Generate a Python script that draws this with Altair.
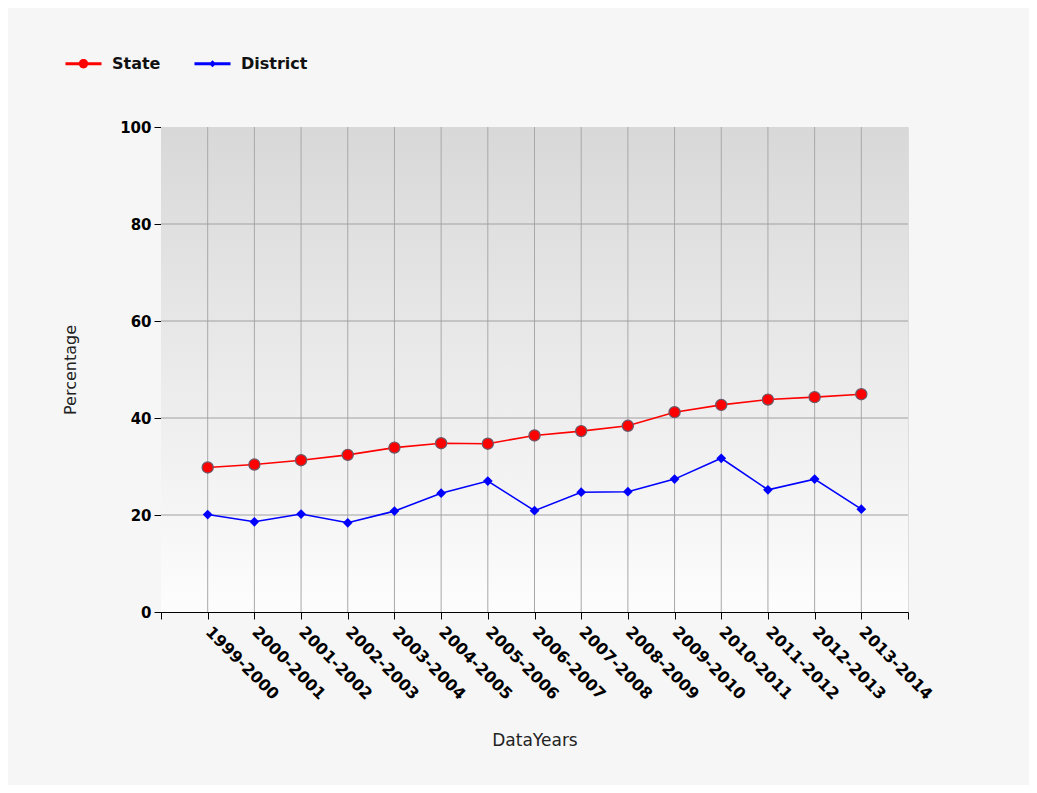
import altair as alt
import pandas as pd

years = ["1999-2000", "2000-2001", "2001-2002", "2002-2003", "2003-2004",
         "2004-2005", "2005-2006", "2006-2007", "2007-2008", "2008-2009",
         "2009-2010", "2010-2011", "2011-2012", "2012-2013", "2013-2014"]
state = [29.8, 30.4, 31.3, 32.4, 33.9, 34.8, 34.7, 36.4, 37.3, 38.4,
         41.2, 42.7, 43.8, 44.3, 44.9]
district = [20.1, 18.6, 20.2, 18.4, 20.8, 24.5, 27.0, 20.9, 24.7, 24.8,
            27.4, 31.7, 25.2, 27.4, 21.2]
series_names = ["State", "District"]
series_colors = ["#ff0000", "#0000ff"]
y_ticks = [0, 20, 40, 60, 80, 100]
y_grid = [20, 40, 60, 80]

rows = []
for i, yr in enumerate(years):
    rows.append({"pos": i + 1, "year": yr, "series": "State", "value": state[i]})
    rows.append({"pos": i + 1, "year": yr, "series": "District", "value": district[i]})
df = pd.DataFrame(rows)

n = len(years)
x_domain = [0, n + 1]
label_arr = "[''," + ",".join("'" + y + "'" for y in years) + ",'']"

x_scale = alt.Scale(domain=x_domain, nice=False, zero=False)
y_scale = alt.Scale(domain=[0, 100], nice=False)

x_axis = alt.Axis(values=list(range(0, n + 2)), labelExpr=label_arr + "[datum.value]",
                  labelAngle=45, labelAlign="left", labelBaseline="middle",
                  labelFontSize=16, labelFontWeight="bold", labelColor="#000",
                  labelPadding=10, tickSize=7, tickColor="#000", domainColor="#000",
                  grid=False, title="DataYears", titleFontSize=17,
                  titleFontWeight="normal", titleColor="#222", titlePadding=30,
                  labelFlush=False, labelOverlap=False)
y_axis = alt.Axis(values=y_ticks, labelFontSize=15, labelFontWeight="bold",
                  labelColor="#000", labelPadding=3, tickSize=7, tickColor="#000",
                  domainColor="#000", grid=False, title="Percentage",
                  titleFontSize=16, titleFontWeight="normal", titleColor="#222",
                  titlePadding=41)

base = alt.Chart(df)

bg = alt.Chart(pd.DataFrame({"a": [0]})).mark_rect(
    color=alt.Gradient(gradient="linear", x1=0, x2=0, y1=0, y2=1,
                       stops=[alt.GradientStop(color="#d8d8d8", offset=0),
                              alt.GradientStop(color="#fdfdfd", offset=1)])
).encode(
    x=alt.datum(0, scale=x_scale, axis=x_axis, type="quantitative"),
    x2=alt.datum(n + 1),
    y=alt.datum(0, scale=y_scale, axis=y_axis, type="quantitative"),
    y2=alt.datum(100),
)

vgrid = alt.Chart(pd.DataFrame({"pos": list(range(1, n + 1))})).mark_rule(
    color="#a8a8a8", strokeWidth=1
).encode(x=alt.X("pos:Q"), y=alt.datum(0), y2=alt.datum(100))

hgrid = alt.Chart(pd.DataFrame({"v": y_grid})).mark_rule(
    color="#a0a0a0", strokeWidth=1
).encode(y=alt.Y("v:Q"), x=alt.datum(0), x2=alt.datum(n + 1))

state_line = base.transform_filter("datum.series == 'State'").mark_line(
    color="#ff0000", strokeWidth=1.6).encode(x="pos:Q", y="value:Q")
district_line = base.transform_filter("datum.series == 'District'").mark_line(
    color="#0000ff", strokeWidth=1.6).encode(x="pos:Q", y="value:Q")

state_pts = base.transform_filter("datum.series == 'State'").mark_point(
    shape="circle", filled=True, fill="#ff0000", stroke="#6a5a6a", strokeWidth=1.2,
    size=125, opacity=1).encode(x="pos:Q", y="value:Q")
district_pts = base.transform_filter("datum.series == 'District'").mark_point(
    shape="diamond", filled=True, color="#0000ff", size=95, opacity=1
).encode(x="pos:Q", y="value:Q")

circ_path = ("M-1,-0.085 L1,-0.085 L1,0.085 L-1,0.085 Z "
             "M0.26,0 A0.26,0.26 0 1,1 -0.26,0 A0.26,0.26 0 1,1 0.26,0 Z")
diam_path = ("M-1,-0.085 L1,-0.085 L1,0.085 L-1,0.085 Z "
             "M0,-0.2 L0.2,0 L0,0.2 L-0.2,0 Z")

leg = alt.Legend(title=None, orient="none", legendX=-96, legendY=-82,
                 direction="horizontal", symbolSize=1300,
                 symbolOpacity=1, symbolStrokeWidth=0,
                 labelFontSize=16, labelFontWeight="bold",
                 labelColor="#111", labelOffset=10, columnPadding=33)

legend_layer = base.mark_point(filled=True, opacity=0, size=1).encode(
    x="pos:Q", y="value:Q",
    color=alt.Color("series:N", scale=alt.Scale(domain=series_names, range=series_colors),
                    legend=leg),
    shape=alt.Shape("series:N", scale=alt.Scale(domain=series_names,
                                                range=[circ_path, diam_path]),
                    legend=leg),
)

chart = alt.layer(bg, vgrid, hgrid, state_line, district_line, state_pts,
                  district_pts, legend_layer).properties(
    width=747, height=485,
    autosize=alt.AutoSizeParams(type="none"),
    padding={"left": 153, "top": 119, "right": 121, "bottom": 173},
    background="#f6f6f6",
).configure_view(stroke="#999999", strokeWidth=1.5).configure(
    font="DejaVu Sans"
)

chart.save("out.html", embed_options={"renderer": "svg", "actions": False})
